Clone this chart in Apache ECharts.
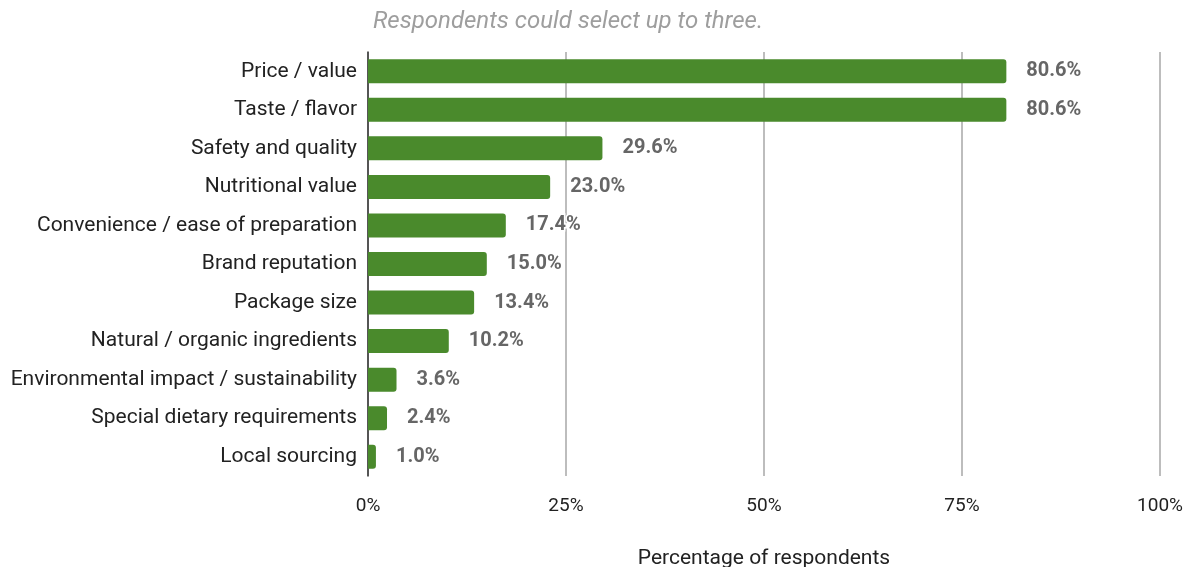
<!DOCTYPE html>
<html>
<head>
<meta charset="utf-8">
<style>
  html, body { margin: 0; padding: 0; background: #ffffff; }
  #chart { width: 1184px; height: 567px; }
</style>
<script src="https://cdn.jsdelivr.net/npm/echarts@6/dist/echarts.min.js"></script>
</head>
<body>
<div id="chart"></div>
<script>
// Purchase factors, in display order (top to bottom)
const categories = [
  'Price / value',
  'Taste / flavor',
  'Safety and quality',
  'Nutritional value',
  'Convenience / ease of preparation',
  'Brand reputation',
  'Package size',
  'Natural / organic ingredients',
  'Environmental impact / sustainability',
  'Special dietary requirements',
  'Local sourcing'
];

// Share of respondents selecting each factor (%)
const shares = [80.6, 80.6, 29.6, 23.0, 17.4, 15.0, 13.4, 10.2, 3.6, 2.4, 1.0];

// Value-axis ticks (%)
const tickValues = [0, 25, 50, 75, 100];

const FONT = 'Roboto, "Noto Sans", sans-serif';

const chart = echarts.init(document.getElementById('chart'), null, { renderer: 'canvas' });

chart.setOption({
  animation: false,
  backgroundColor: '#ffffff',
  title: {
    text: 'Respondents could select up to three.',
    left: 368,
    top: 5,
    textStyle: {
      fontFamily: FONT,
      fontSize: 24,
      fontStyle: 'italic',
      fontWeight: 'normal',
      color: '#9e9e9e'
    }
  },
  grid: {
    left: 368,
    right: 24,
    top: 52,
    bottom: 91,
    containLabel: false,
    outerBoundsMode: 'none'
  },
  xAxis: {
    type: 'value',
    min: tickValues[0],
    max: tickValues[tickValues.length - 1],
    interval: tickValues[1] - tickValues[0],
    name: 'Percentage of respondents',
    nameLocation: 'middle',
    nameGap: 72,
    nameTextStyle: {
      fontFamily: FONT,
      fontSize: 21,
      color: '#222222'
    },
    axisLine: { show: false },
    axisTick: { show: false },
    axisLabel: {
      formatter: '{value}%',
      fontFamily: FONT,
      fontSize: 19,
      color: '#222222',
      margin: 21,
      hideOverlap: false
    },
    splitLine: {
      show: true,
      lineStyle: { color: '#bdbdbd', width: 2 }
    }
  },
  yAxis: {
    type: 'category',
    data: categories,
    inverse: true,
    axisLine: { show: true, lineStyle: { color: '#333333', width: 1.5 } },
    axisTick: { show: false },
    axisLabel: {
      fontFamily: FONT,
      fontSize: 21,
      color: '#222222',
      margin: 11
    },
    splitLine: { show: false }
  },
  series: [{
    type: 'bar',
    data: shares,
    barWidth: 24,
    itemStyle: {
      color: '#4a8a2c',
      borderRadius: [0, 3, 3, 0]
    },
    label: {
      show: true,
      position: 'right',
      distance: 20,
      formatter: p => p.value.toFixed(1) + '%',
      fontFamily: FONT,
      fontSize: 20,
      fontWeight: 'bold',
      color: '#666666',
      textBorderColor: '#ffffff',
      textBorderWidth: 3
    }
  }]
});
</script>
</body>
</html>
